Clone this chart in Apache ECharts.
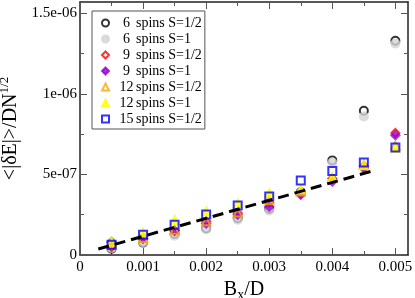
<!DOCTYPE html>
<html><head><meta charset="utf-8">
<script src="https://cdn.jsdelivr.net/npm/echarts@6/dist/echarts.min.js"></script>
<style>html,body{margin:0;padding:0;background:#fff}#c{width:415px;height:298px}</style>
</head><body><div id="c"></div>
<script>
const xVals = [0.0005,0.001,0.0015,0.002,0.0025,0.003,0.0035,0.004,0.0045,0.005];
const s6half  = [3.9e-8,7.7e-8,1.3e-7,1.65e-7,2.28e-7,2.85e-7,3.9e-7,5.87e-7,8.95e-7,1.33e-6];
const s6one   = [4.3e-8,7.9e-8,1.2e-7,1.6e-7,2.19e-7,2.76e-7,3.85e-7,5.74e-7,8.6e-7,1.312e-6];
const s9half  = [5e-8,1.0e-7,1.5e-7,2.1e-7,2.6e-7,3.26e-7,3.8e-7,4.75e-7,5.5e-7,7.57e-7];
const s9one   = [8e-8,1.05e-7,1.5e-7,1.95e-7,2.5e-7,3.0e-7,3.74e-7,4.56e-7,5.39e-7,7.43e-7];
const s12half = [8e-8,1.05e-7,1.56e-7,2.1e-7,2.64e-7,3.4e-7,3.94e-7,4.77e-7,5.6e-7,6.8e-7];
const s12one  = [8.5e-8,1.42e-7,2.2e-7,2.75e-7,3.24e-7,3.86e-7,4.09e-7,4.85e-7,5.6e-7,6.67e-7];
const s15half = [6.4e-8,1.26e-7,1.87e-7,2.52e-7,3.07e-7,3.63e-7,4.62e-7,5.22e-7,5.74e-7,6.67e-7];
const fitX = [0.00029,0.00466];
const fitY = [3.7e-8,5.24e-7];
const seriesSizes = ['6','6','9','9','12','12','15'];
const seriesSpins = ['S=1/2','S=1','S=1/2','S=1','S=1/2','S=1','S=1/2'];
const seriesNames = seriesSizes.map((n,i)=>n+' spins '+seriesSpins[i]);
const xMajor = [0,0.001,0.002,0.003,0.004,0.005];
const xMajorLabels = ['0','0.001','0.002','0.003','0.004','0.005'];
const xMinor = [0.0005,0.0015,0.0025,0.0035,0.0045];
const yMajor = [0,5e-7,1e-6,1.5e-6];
const yMajorLabels = ['0','5e-07','1e-06','1.5e-06'];
const yMinor = [2.5e-7,7.5e-7,1.25e-6];

const FONT = "'Liberation Serif','Times New Roman',serif";
const styles = [
  {symbol:'circle', size:8, item:{color:'rgba(0,0,0,0)', borderColor:'#000', borderWidth:2}},
  {symbol:'circle', size:10, item:{color:'#d3d3d3', borderWidth:0}},
  {symbol:'diamond', size:8, item:{color:'rgba(0,0,0,0)', borderColor:'#ff0000', borderWidth:2}},
  {symbol:'diamond', size:11, item:{color:'#9400d3', borderWidth:0}},
  {symbol:'triangle', size:8, item:{color:'rgba(0,0,0,0)', borderColor:'#ffa500', borderWidth:2}},
  {symbol:'triangle', size:11, item:{color:'#ffff00', borderWidth:0}},
  {symbol:'rect', size:8, item:{color:'rgba(0,0,0,0)', borderColor:'#0000ff', borderWidth:2}}
];
const legendItem = s => s.item.borderWidth ? s.item : {color:s.item.color, borderColor:s.item.color, borderWidth:2};
const allY = [s6half,s6one,s9half,s9one,s12half,s12one,s15half];
const XMIN=0, XMAX=0.0052, YMIN=0, YMAX=1.57e-6;

function xAx(pos, ticks, len, labels, line){
  return {type:'value', position:pos, min:XMIN, max:XMAX, gridIndex:0,
    axisLine:{show:line, onZero:false, lineStyle:{color:'#222', width:1.5}},
    splitLine:{show:false},
    axisTick:{show:true, inside:true, length:len, customValues:ticks, lineStyle:{color:'#555', width:1}},
    axisLabel:labels ? {show:true, customValues:xMajor, margin:5, color:'#000', fontFamily:FONT, fontSize:15,
       formatter:v=>{const i=xMajor.findIndex(t=>Math.abs(t-v)<1e-9); return i>=0?xMajorLabels[i]:'';}} : {show:false}
  };
}
function yAx(pos, ticks, len, labels, line){
  return {type:'value', position:pos, min:YMIN, max:YMAX, gridIndex:0,
    axisLine:{show:line, onZero:false, lineStyle:{color:'#222', width:1.5}},
    splitLine:{show:false},
    axisTick:{show:true, inside:true, length:len, customValues:ticks, lineStyle:{color:'#555', width:1}},
    axisLabel:labels ? {show:true, customValues:yMajor, margin:3, color:'#000', fontFamily:FONT, fontSize:15,
       formatter:v=>{const i=yMajor.findIndex(t=>Math.abs(t-v)<1e-12); return i>=0?yMajorLabels[i]:'';}} : {show:false}
  };
}
const xAxes = [xAx('bottom',xMajor,7,true,true), xAx('bottom',xMinor,4,false,false), xAx('top',xMajor,7,false,true), xAx('top',xMinor,4,false,false)];
const yAxes = [yAx('left',yMajor,7,true,true), yAx('left',yMinor,4,false,false), yAx('right',yMajor,7,false,true), yAx('right',yMinor,4,false,false)];
Object.assign(xAxes[0], {name:'{a|B}{b|x}{a|/D}', nameLocation:'middle', nameGap:14,
  nameTextStyle:{fontFamily:FONT, color:'#000', rich:{a:{fontFamily:FONT,fontSize:20,color:'#000'}, b:{fontFamily:FONT,fontSize:14,color:'#000',padding:[10,0,0,0]}}}});
Object.assign(yAxes[0], {name:'{a|<|δE|>/DN}{b|1/2}', nameLocation:'middle', nameGap:50, nameRotate:90,
  nameTextStyle:{fontFamily:FONT, color:'#000', rich:{a:{fontFamily:FONT,fontSize:20,color:'#000'}, b:{fontFamily:FONT,fontSize:13,color:'#000',padding:[0,0,12,0]}}}});

const series = allY.map((ys,k)=>({
  type:'scatter', name:seriesNames[k], xAxisIndex:0, yAxisIndex:0,
  symbol:styles[k].symbol, symbolSize:styles[k].size, itemStyle:styles[k].item,
  data: xVals.map((x,i)=>[x, ys[i]]), z:2+k*0.01, emphasis:{disabled:true}
}));
series.push({type:'line', xAxisIndex:0, yAxisIndex:0, data:fitX.map((x,i)=>[x,fitY[i]]), symbol:'none',
  lineStyle:{color:'#000', width:3, type:[11,6]}, z:3, silent:true});

const chart = echarts.init(document.getElementById('c'), null, {renderer:'canvas'});
chart.setOption({
  animation:false,
  backgroundColor:'#fff',
  grid:{left:80, right:7, top:2, bottom:43, containLabel:false, outerBoundsMode:'none'},
  xAxis:xAxes, yAxis:yAxes,
  legend:{orient:'vertical', left:92, top:11, padding:[5,3,3,9], itemGap:2, itemWidth:7, itemHeight:7,
    borderColor:'#555', borderWidth:1, backgroundColor:'#fff',
    textStyle:{fontFamily:FONT, fontSize:14, color:'#000', lineHeight:14,
      rich:{p:{fontFamily:FONT, fontSize:14, lineHeight:14, width:4},
            n:{fontFamily:FONT, fontSize:14, color:'#000', lineHeight:14, width:17, align:'center'},
            r:{fontFamily:FONT, fontSize:14, color:'#000', lineHeight:14, padding:[0,0,0,1]}}},
    formatter:name=>{const k=seriesNames.indexOf(name); return '{p| }{n|'+seriesSizes[k]+'}{r|spins '+seriesSpins[k]+'}';},
    data: seriesNames.map((n,k)=>({name:n, icon:styles[k].symbol, itemStyle:legendItem(styles[k])})),
    selectedMode:false},
  series:series
});
</script></body></html>
